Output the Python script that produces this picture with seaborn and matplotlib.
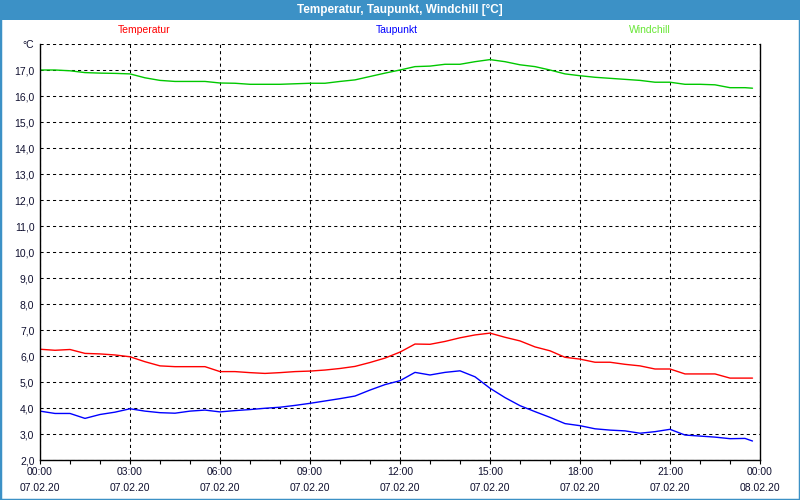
import matplotlib
matplotlib.use("Agg")
import matplotlib.pyplot as plt
import seaborn as sns
from matplotlib.patches import Rectangle
from matplotlib import font_manager

sns.set_theme(style="white")

# pick a narrow font if available
_names = {f.name for f in font_manager.fontManager.ttflist}
NARROW = "Liberation Sans Narrow" if "Liberation Sans Narrow" in _names else "Liberation Sans"
plt.rcParams["font.family"] = [NARROW, "DejaVu Sans"]

# data: hours after 07.02.20 00:00
hours = [0, 0.5, 1, 1.5, 2, 2.5, 3, 3.5, 4, 4.5, 5, 5.5, 6, 6.5, 7, 7.5,
         8, 8.5, 9, 9.5, 10, 10.5, 11, 11.5, 12, 12.5, 13, 13.5, 14, 14.5,
         15, 15.5, 16, 16.5, 17, 17.5, 18, 18.5, 19, 19.5, 20, 20.5, 21,
         21.5, 22, 22.5, 23, 23.5, 23.75]

temperatur = [6.26, 6.22, 6.25, 6.10, 6.08, 6.04, 5.97, 5.78, 5.62, 5.59,
              5.59, 5.59, 5.40, 5.40, 5.36, 5.33, 5.36, 5.40, 5.42, 5.46,
              5.52, 5.60, 5.75, 5.92, 6.15, 6.46, 6.45, 6.56, 6.70, 6.81,
              6.88, 6.72, 6.58, 6.35, 6.20, 5.95, 5.88, 5.76, 5.76, 5.68,
              5.62, 5.50, 5.50, 5.31, 5.31, 5.31, 5.15, 5.15, 5.15]

taupunkt = [3.88, 3.79, 3.79, 3.60, 3.75, 3.84, 3.97, 3.88, 3.82, 3.80,
            3.88, 3.92, 3.85, 3.90, 3.94, 3.99, 4.03, 4.10, 4.18, 4.27,
            4.36, 4.46, 4.69, 4.90, 5.05, 5.37, 5.27, 5.37, 5.43, 5.20,
            4.76, 4.40, 4.09, 3.86, 3.64, 3.40, 3.32, 3.20, 3.15, 3.12,
            3.03, 3.09, 3.18, 2.96, 2.92, 2.88, 2.82, 2.83, 2.73]

windchill = [17.00, 17.00, 16.97, 16.90, 16.88, 16.87, 16.85, 16.70, 16.60,
             16.56, 16.56, 16.56, 16.50, 16.49, 16.45, 16.45, 16.45, 16.47,
             16.49, 16.49, 16.56, 16.62, 16.75, 16.88, 17.00, 17.13, 17.15,
             17.22, 17.22, 17.32, 17.40, 17.32, 17.20, 17.13, 17.00, 16.85,
             16.78, 16.72, 16.68, 16.64, 16.60, 16.53, 16.53, 16.45, 16.45,
             16.43, 16.32, 16.32, 16.30]

series_names = ["Temperatur", "Taupunkt", "Windchill"]
line_colors = ["#ff0000", "#0000ff", "#00c800"]
label_colors = ["#ff0000", "#0000ff", "#66e633"]

x_ticks = [0, 3, 6, 9, 12, 15, 18, 21, 24]
x_labels = ["00:00\n07.02.20", "03:00\n07.02.20", "06:00\n07.02.20",
            "09:00\n07.02.20", "12:00\n07.02.20", "15:00\n07.02.20",
            "18:00\n07.02.20", "21:00\n07.02.20", "00:00\n08.02.20"]
y_ticks = list(range(2, 19))
y_labels = [f"{v},0" for v in y_ticks[:-1]] + ["°C"]

TITLE_BLUE = "#3c91c6"
TEXT = "#101030"

fig = plt.figure(figsize=(8, 5), dpi=100, facecolor="white")
ax = fig.add_axes([40 / 800, 40 / 500, 720 / 800, 416 / 500])
ax.set_facecolor("white")

for vals, name, col in zip([temperatur, taupunkt, windchill], series_names, line_colors):
    sns.lineplot(x=hours, y=vals, color=col, linewidth=1.0, ax=ax, label=name, legend=False)

ax.set_xlim(0, 24)
ax.set_ylim(2, 18)
ax.set_xticks(x_ticks)
ax.set_xticklabels(x_labels, fontsize=7.5, color=TEXT, linespacing=1.8)
ax.set_xticks(range(0, 25), minor=True)
ax.set_yticks(y_ticks)
ax.set_yticklabels(y_labels, fontsize=7.5, color=TEXT)
ax.tick_params(axis="x", which="both", direction="out", length=3, width=0.8,
               color="black", bottom=True, pad=2)
ax.tick_params(axis="y", length=0, pad=4)

ax.grid(True, color="black", linestyle=(0, (3, 3)), linewidth=0.75)
ax.set_axisbelow(True)
for side in ["left", "bottom", "right"]:
    ax.spines[side].set_visible(True)
    ax.spines[side].set_color("black")
    ax.spines[side].set_linewidth(1.0)
ax.spines["top"].set_visible(False)
ax.set_xlabel("")
ax.set_ylabel("")

# series labels above the plot
for name, col, xc in zip(series_names, label_colors, [144, 397, 650]):
    fig.text(xc / 800, 1 - 30 / 500, name, color=col, fontsize=7.5,
             ha="center", va="center")

# title bar and window frame
fig.patches.append(Rectangle((0, 1 - 20 / 500), 1, 20 / 500, transform=fig.transFigure,
                             facecolor=TITLE_BLUE, edgecolor="none", zorder=0))
fig.patches.append(Rectangle((0, 0), 1, 1, transform=fig.transFigure, fill=False,
                             edgecolor=TITLE_BLUE, linewidth=2.5, zorder=5))
fig.text(0.5, 1 - 10 / 500, "Temperatur, Taupunkt, Windchill [°C]", color="white",
         fontsize=8.5, fontweight="bold", ha="center", va="center")

fig.savefig("out.png", dpi=100)
